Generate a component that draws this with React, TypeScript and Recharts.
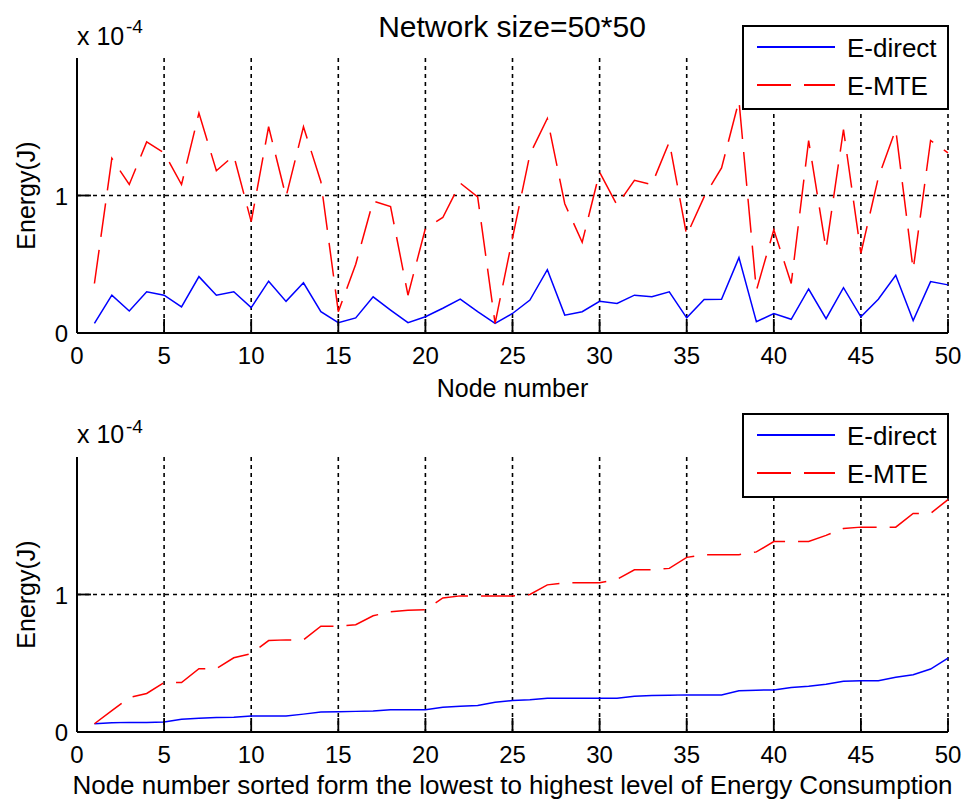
import React from 'react';
import { LineChart, Line, XAxis, YAxis, CartesianGrid, Legend } from 'recharts';

// Node numbers (x categories)
const nodeNumbers = [
  1, 2, 3, 4, 5, 6, 7, 8, 9, 10, 11, 12, 13, 14, 15, 16, 17, 18, 19, 20, 21, 22, 23, 24, 25,
  26, 27, 28, 29, 30, 31, 32, 33, 34, 35, 36, 37, 38, 39, 40, 41, 42, 43, 44, 45, 46, 47, 48, 49, 50,
];

// Energy values in units of 1e-4 J, per node (top panel)
const eDirect = [
  0.07, 0.275, 0.16, 0.3, 0.275, 0.19, 0.41, 0.275, 0.3, 0.185,
  0.377, 0.23, 0.365, 0.155, 0.075, 0.11, 0.263, 0.167, 0.075, 0.118,
  0.18, 0.246, 0.155, 0.07, 0.142, 0.24, 0.46, 0.13, 0.155, 0.23,
  0.215, 0.275, 0.263, 0.3, 0.11, 0.244, 0.246, 0.548, 0.082, 0.142,
  0.1, 0.32, 0.104, 0.33, 0.118, 0.246, 0.42, 0.09, 0.374, 0.35,
];
const eMTE = [
  0.36, 1.27, 1.08, 1.39, 1.31, 1.08, 1.6, 1.18, 1.29, 0.81,
  1.5, 0.99, 1.5, 1.1, 0.155, 0.5, 0.96, 0.92, 0.275, 0.76,
  0.84, 1.09, 0.99, 0.07, 0.69, 1.3, 1.56, 0.94, 0.66, 1.17,
  0.93, 1.11, 1.08, 1.39, 0.71, 0.99, 1.2, 1.69, 0.31, 0.75,
  0.36, 1.4, 0.61, 1.48, 0.58, 1.13, 1.48, 0.46, 1.4, 1.31,
];

// Sorted energy values (bottom panel), units of 1e-4 J
const eDirectSorted = [
  0.06, 0.067, 0.07, 0.07, 0.072, 0.092, 0.1, 0.106, 0.108, 0.116,
  0.116, 0.116, 0.13, 0.145, 0.147, 0.15, 0.152, 0.161, 0.161, 0.161,
  0.18, 0.188, 0.193, 0.217, 0.229, 0.234, 0.246, 0.246, 0.246, 0.246,
  0.246, 0.26, 0.265, 0.267, 0.27, 0.27, 0.27, 0.3, 0.304, 0.306,
  0.323, 0.333, 0.347, 0.369, 0.373, 0.373, 0.398, 0.417, 0.458, 0.537,
];
const eMTESorted = [
  0.06, 0.155, 0.25, 0.28, 0.36, 0.36, 0.46, 0.46, 0.54, 0.57,
  0.665, 0.67, 0.67, 0.77, 0.77, 0.78, 0.845, 0.875, 0.885, 0.89,
  0.975, 0.99, 0.99, 0.99, 0.99, 1.0, 1.07, 1.085, 1.085, 1.085,
  1.11, 1.18, 1.18, 1.19, 1.27, 1.29, 1.29, 1.29, 1.31, 1.385,
  1.385, 1.385, 1.43, 1.48, 1.49, 1.49, 1.49, 1.59, 1.59, 1.69,
];

const xTicks = [0, 5, 10, 15, 20, 25, 30, 35, 40, 45, 50];
const yTicks = [0, 1];
const gridYValues = [0, 1];
const seriesKeys = ['direct', 'mte'];
const seriesNames = ['E-direct', 'E-MTE'];
const titleText = 'Network size=50*50';
const yLabel = 'Energy(J)';
const xLabelTop = 'Node number';
const xLabelBottom = 'Node number sorted form the lowest to highest level of Energy Consumption';

const topData = nodeNumbers.map((n, i) => ({ node: n, direct: eDirect[i], mte: eMTE[i] }));
const bottomData = nodeNumbers.map((n, i) => ({ node: n, direct: eDirectSorted[i], mte: eMTESorted[i] }));

const FONT = '"Liberation Sans", Arial, Helvetica, sans-serif';
const TICK_LEN = 14;
const RED_DASH = '34 13';
const BLUE = '#0000ff';
const RED = '#ff0000';

function makeXTick(labelGap: number) {
  return (props: any) => {
    const { x, y, payload } = props;
    const v = payload.value;
    return (
      <g>
        {v !== 0 && <line x1={x} x2={x} y1={y} y2={y - TICK_LEN} stroke="#000" strokeWidth={1.8} />}
        <text x={x} y={y + labelGap} textAnchor="middle" fontSize={24} fontFamily={FONT} fill="#000">
          {v}
        </text>
      </g>
    );
  };
}

const YTick = (props: any) => {
  const { x, y, payload } = props;
  const v = payload.value;
  return (
    <g>
      {v !== 0 && <line x1={x} x2={x + TICK_LEN} y1={y} y2={y} stroke="#000" strokeWidth={1.8} />}
      <text x={x - 9} y={y + 9} textAnchor="end" fontSize={24} fontFamily={FONT} fill="#000">
        {v}
      </text>
    </g>
  );
};

const LegendBox = (props: any) => {
  const payload = [...(props.payload || [])].sort(
    (a: any, b: any) => seriesKeys.indexOf(a.dataKey) - seriesKeys.indexOf(b.dataKey)
  );
  return (
    <svg width={207} height={85} style={{ display: 'block' }}>
      <rect x={1} y={1} width={205} height={83} fill="#fff" stroke="#000" strokeWidth={2} />
      {payload.map((entry: any, i: number) => {
        const cy = 22 + i * 38;
        return (
          <g key={String(entry.value)}>
            <line
              x1={15}
              x2={93}
              y1={cy}
              y2={cy}
              stroke={entry.color}
              strokeWidth={2}
              strokeDasharray={entry.dataKey === 'mte' ? RED_DASH : undefined}
            />
            <text x={105} y={cy + 10} fontSize={26} fontFamily={FONT} fill="#000">
              {entry.value}
            </text>
          </g>
        );
      })}
    </svg>
  );
};

function yAxisLabel(p: any) {
  const vb = p.viewBox || { x: 0, y: 58, width: 77, height: 275 };
  const cx = vb.x + 35;
  const cy = vb.y + vb.height / 2;
  return (
    <text
      x={cx}
      y={cy}
      transform={`rotate(-90, ${cx}, ${cy})`}
      textAnchor="middle"
      fontSize={25}
      fontFamily={FONT}
      fill="#000"
    >
      {yLabel}
    </text>
  );
}

function xAxisLabel(text: string, gap: number, size: number) {
  return (p: any) => {
    const vb = p.viewBox || { x: 77, y: 333, width: 871, height: 67 };
    return (
      <text x={vb.x + vb.width / 2} y={vb.y + gap} textAnchor="middle" fontSize={size} fontFamily={FONT} fill="#000">
        {text}
      </text>
    );
  };
}

function Panel(props: {
  data: any[];
  height: number;
  marginTop: number;
  xHeight: number;
  xLabel: string;
  xLabelGap: number;
  xLabelSize: number;
  legendTop: number;
}) {
  const { data, height, marginTop, xHeight, xLabel, xLabelGap, xLabelSize, legendTop } = props;
  return (
    <LineChart
      width={966}
      height={height}
      data={data}
      margin={{ top: marginTop, right: 18, left: 0, bottom: 0 }}
      style={{ overflow: 'visible' }}
    >
      <CartesianGrid
        stroke="#000"
        strokeWidth={1.6}
        strokeDasharray="4 4"
        horizontalValues={gridYValues}
        verticalValues={xTicks}
      />
      <XAxis
        dataKey="node"
        type="number"
        domain={[0, 50]}
        ticks={xTicks}
        interval={0}
        tickSize={0}
        tickMargin={0}
        tickLine={false}
        tick={makeXTick(31)}
        axisLine={{ stroke: '#000', strokeWidth: 2 }}
        height={xHeight}
        label={{ content: xAxisLabel(xLabel, xLabelGap, xLabelSize) }}
      />
      <YAxis
        type="number"
        domain={[0, 2]}
        ticks={yTicks}
        interval={0}
        width={77}
        tickSize={0}
        tickMargin={0}
        tickLine={false}
        tick={YTick}
        axisLine={{ stroke: '#000', strokeWidth: 2 }}
        label={{ content: yAxisLabel }}
      />
      <Line
        dataKey="direct"
        name={seriesNames[0]}
        type="linear"
        stroke={BLUE}
        strokeWidth={1.5}
        dot={false}
        isAnimationActive={false}
      />
      <Line
        dataKey="mte"
        name={seriesNames[1]}
        type="linear"
        stroke={RED}
        strokeWidth={1.5}
        strokeDasharray={RED_DASH}
        dot={false}
        isAnimationActive={false}
      />
      <Legend
        layout="vertical"
        align="center"
        verticalAlign="middle"
        content={LegendBox}
        wrapperStyle={{ left: 742, top: legendTop, width: 207, height: 85 }}
      />
    </LineChart>
  );
}

export default function App() {
  return (
    <div style={{ position: 'absolute', left: 0, top: 0, width: 966, height: 803, background: '#fff', overflow: 'hidden' }}>
      <div style={{ position: 'absolute', left: 0, top: 0 }}>
        <Panel
          data={topData}
          height={406}
          marginTop={58}
          xHeight={73}
          xLabel={xLabelTop}
          xLabelGap={64}
          xLabelSize={25}
          legendTop={25}
        />
      </div>
      <div style={{ position: 'absolute', left: 0, top: 400 }}>
        <Panel
          data={bottomData}
          height={403}
          marginTop={57}
          xHeight={71}
          xLabel={xLabelBottom}
          xLabelGap={62}
          xLabelSize={26}
          legendTop={13}
        />
      </div>
      <svg width={966} height={803} style={{ position: 'absolute', left: 0, top: 0, pointerEvents: 'none' }}>
        <text x={512} y={37} textAnchor="middle" fontSize={30} fontFamily={FONT} fill="#000">
          {titleText}
        </text>
        <text x={77} y={45} fontSize={25} fontFamily={FONT} fill="#000">
          x 10
        </text>
        <text x={126} y={33} fontSize={19} fontFamily={FONT} fill="#000">
          -4
        </text>
        <text x={77} y={443} fontSize={25} fontFamily={FONT} fill="#000">
          x 10
        </text>
        <text x={126} y={433} fontSize={19} fontFamily={FONT} fill="#000">
          -4
        </text>
      </svg>
    </div>
  );
}
